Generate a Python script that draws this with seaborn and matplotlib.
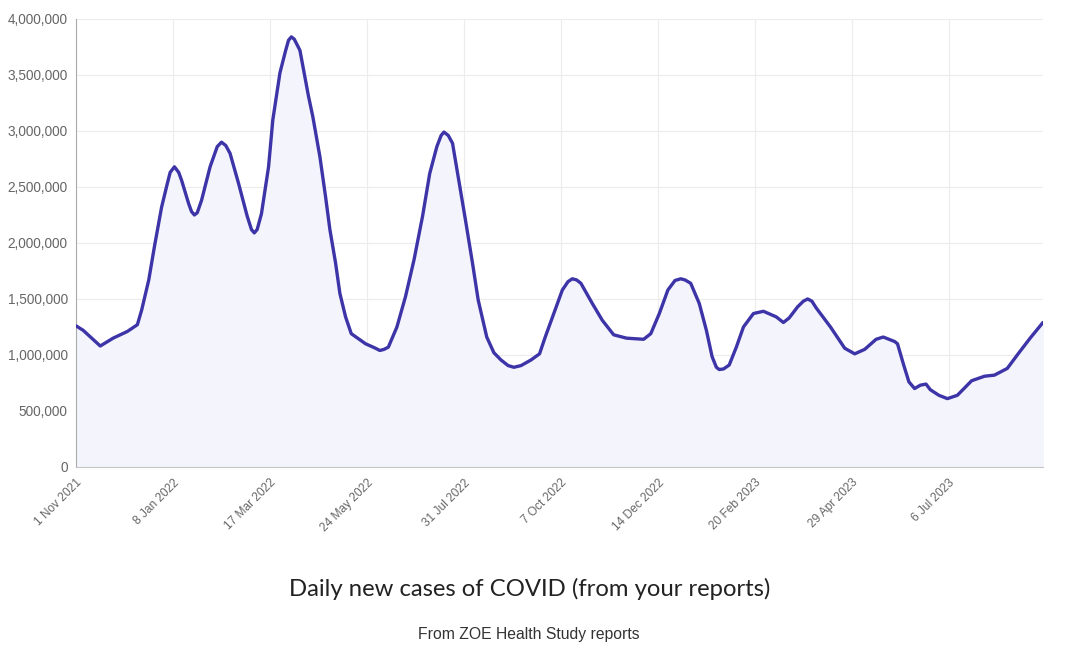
import pandas as pd
import matplotlib.pyplot as plt
import matplotlib.ticker as mticker
import seaborn as sns

# Dates et valeurs
dates = [
    "2021-11-01", "2021-11-06", "2021-11-18", "2021-11-27", "2021-12-07", "2021-12-14",
    "2021-12-17", "2021-12-22", "2021-12-26", "2021-12-31", "2022-01-04", "2022-01-06",
    "2022-01-09", "2022-01-12", "2022-01-14", "2022-01-19", "2022-01-21", "2022-01-23",
    "2022-01-25", "2022-01-28", "2022-02-03", "2022-02-08", "2022-02-11", "2022-02-14",
    "2022-02-17", "2022-02-23", "2022-03-01", "2022-03-04", "2022-03-06", "2022-03-08",
    "2022-03-11", "2022-03-16", "2022-03-19", "2022-03-24", "2022-03-28", "2022-03-30",
    "2022-04-01", "2022-04-03", "2022-04-07", "2022-04-13", "2022-04-16", "2022-04-21",
    "2022-04-25", "2022-04-28", "2022-05-02", "2022-05-05", "2022-05-09", "2022-05-13",
    "2022-05-23", "2022-05-30", "2022-06-02", "2022-06-05", "2022-06-08", "2022-06-14",
    "2022-06-20", "2022-06-26", "2022-07-02", "2022-07-07", "2022-07-12", "2022-07-15",
    "2022-07-17", "2022-07-20", "2022-07-23", "2022-07-27", "2022-08-01", "2022-08-06",
    "2022-08-10", "2022-08-16", "2022-08-21", "2022-08-26", "2022-08-31", "2022-09-04",
    "2022-09-09", "2022-09-16", "2022-09-22", "2022-09-26", "2022-10-02", "2022-10-08",
    "2022-10-12", "2022-10-15", "2022-10-18", "2022-10-21", "2022-10-29", "2022-11-05",
    "2022-11-13", "2022-11-22", "2022-12-04", "2022-12-09", "2022-12-15", "2022-12-21",
    "2022-12-26", "2022-12-30", "2023-01-02", "2023-01-06", "2023-01-12", "2023-01-17",
    "2023-01-21", "2023-01-24", "2023-01-26", "2023-01-29", "2023-02-02", "2023-02-07",
    "2023-02-12", "2023-02-19", "2023-02-26", "2023-03-07", "2023-03-12", "2023-03-16",
    "2023-03-22", "2023-03-26", "2023-03-29", "2023-04-01", "2023-04-04", "2023-04-14",
    "2023-04-24", "2023-05-01", "2023-05-08", "2023-05-16", "2023-05-21", "2023-05-29",
    "2023-05-31", "2023-06-04", "2023-06-08", "2023-06-12", "2023-06-16", "2023-06-20",
    "2023-06-23", "2023-06-29", "2023-07-05", "2023-07-12", "2023-07-22", "2023-07-31",
    "2023-08-07", "2023-08-16", "2023-08-23", "2023-09-01", "2023-09-10",
]
cases = [
    1260000, 1220000, 1080000, 1150000, 1210000, 1270000,
    1400000, 1670000, 1970000, 2320000, 2530000, 2630000,
    2680000, 2630000, 2560000, 2350000, 2280000, 2250000,
    2270000, 2380000, 2680000, 2860000, 2900000, 2870000,
    2800000, 2530000, 2240000, 2120000, 2090000, 2120000,
    2260000, 2680000, 3100000, 3520000, 3720000, 3810000,
    3840000, 3820000, 3720000, 3310000, 3130000, 2770000,
    2410000, 2120000, 1820000, 1550000, 1340000, 1190000,
    1100000, 1060000, 1040000, 1050000, 1070000, 1250000,
    1520000, 1850000, 2240000, 2620000, 2860000, 2960000,
    2990000, 2960000, 2890000, 2590000, 2210000, 1820000,
    1490000, 1160000, 1020000, 955000, 905000, 890000,
    905000, 955000, 1010000, 1160000, 1370000, 1580000,
    1655000, 1680000, 1670000, 1640000, 1460000, 1310000,
    1180000, 1150000, 1140000, 1190000, 1370000, 1580000,
    1665000, 1680000, 1670000, 1640000, 1460000, 1220000,
    985000, 890000, 870000, 875000, 910000, 1070000,
    1250000, 1370000, 1390000, 1340000, 1290000, 1330000,
    1430000, 1480000, 1500000, 1480000, 1420000, 1250000,
    1060000, 1010000, 1050000, 1140000, 1160000, 1120000,
    1100000, 925000, 760000, 700000, 730000, 740000,
    690000, 640000, 610000, 640000, 770000, 810000,
    820000, 880000, 1000000, 1150000, 1290000,
]
tick_labels = ["1 Nov 2021", "8 Jan 2022", "17 Mar 2022", "24 May 2022", "31 Jul 2022",
               "7 Oct 2022", "14 Dec 2022", "20 Feb 2023", "29 Apr 2023", "6 Jul 2023"]

df = pd.DataFrame({"date": pd.to_datetime(dates), "cases": cases})
ticks = pd.to_datetime(tick_labels, format="%d %b %Y")

sns.set_style("whitegrid")
plt.rcParams['font.family'] = ['Liberation Sans', 'DejaVu Sans']

fig = plt.figure(figsize=(10.8, 6.54), dpi=100)
ax = fig.add_axes([0.0704, 0.286, 0.8953, 0.685])

ax.fill_between(df["date"], 0, df["cases"], color="#f4f4fd", zorder=1)
sns.lineplot(data=df, x="date", y="cases", color="#3d34a8", linewidth=2.4, ax=ax, zorder=3)

ax.set_xlim(pd.Timestamp("2021-11-01"), pd.Timestamp("2023-09-10"))
ax.set_ylim(0, 4000000)
ax.yaxis.set_major_locator(mticker.MultipleLocator(500000))
ax.yaxis.set_major_formatter(mticker.StrMethodFormatter("{x:,.0f}"))
ax.set_xticks(ticks)
ax.set_xticklabels(tick_labels, rotation=45, ha="right", rotation_mode="anchor")

ax.grid(True, color="#ececec", linewidth=0.8)
ax.set_axisbelow(True)
for s in ["top", "right"]:
    ax.spines[s].set_visible(False)
ax.spines["left"].set_color("#aaaaaa")
ax.spines["bottom"].set_color("#c4c4c4")
ax.tick_params(axis="y", colors="#666666", labelsize=9.8, length=4, width=0.8, pad=2)
ax.tick_params(axis="x", colors="#666666", labelsize=8.6, length=4, width=0.8, pad=3)
ax.tick_params(axis="both", color="#bbbbbb")
ax.set_xlabel("")
ax.set_ylabel("")

fig.text(0.49, 0.1, "Daily new cases of COVID (from your reports)", ha="center", va="center",
         fontsize=17.2, color="#222222", family=["Lato", "DejaVu Sans"])
fig.text(0.49, 0.03, "From ZOE Health Study reports", ha="center", va="center",
         fontsize=11.3, color="#333333")

plt.savefig("out.png", dpi=100)
